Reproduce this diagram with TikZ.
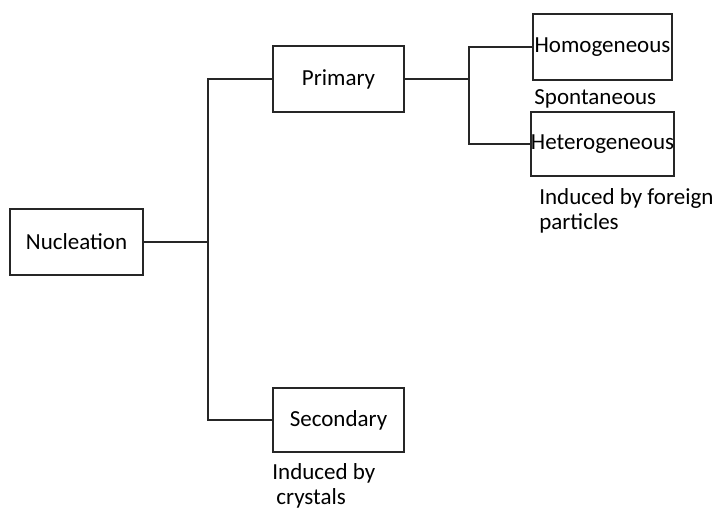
\documentclass[tikz,border=0pt]{standalone}
\usepackage{fontspec}
\setmainfont{Carlito}
\usetikzlibrary{positioning}

\tikzset{
  box/.style={draw=black!85, line width=1pt, minimum height=33pt, inner sep=0pt,
    font=\fontsize{11.5}{13}\selectfont},
  lbl/.style={inner sep=0pt, align=left, font=\fontsize{11.5}{12.5}\selectfont},
  link/.style={draw=black!85, line width=1pt},
}

\begin{document}
\begin{tikzpicture}[on grid, node distance=1cm]
   \useasboundingbox (-38.25pt,-133.5pt) rectangle (319.25pt,121pt);

   % boxes
   \node[box, minimum width=66.5pt] (nuc) {Nucleation};
   \node[box, minimum width=65.5pt] (prim) [above right=81.5pt and 131pt of nuc] {Primary};
   \node[box, minimum width=65.5pt, minimum height=32pt] (sec) [below=170.5pt of prim] {Secondary};
   \node[box, minimum width=69.5pt] (homog) [above right=16pt and 132pt of prim] {Homogeneous};
   \node[box, minimum width=69pt, minimum height=32pt] (heter) [below=48.5pt of homog] {Heterogeneous};

   % branch points
   \coordinate[right=32pt of nuc.east] (jl);
   \coordinate[right=32pt of prim.east] (jr);

   % connectors
   \draw[link] (nuc.east) -- (jl);
   \draw[link] (prim.west) -| (jl) |- (sec.west);
   \draw[link] (prim.east) -- (jr);
   \draw[link] (homog.west) -| (jr) |- (heter.west);

   % notes under the boxes
   \node[lbl, anchor=north west] (spont) at ([xshift=1pt, yshift=-4pt]homog.south west) {Spontaneous};
   \node[lbl, anchor=north west] (foreign) at ([xshift=4.5pt, yshift=-5.5pt]heter.south west) {Induced by foreign\\particles};
   \node[lbl, anchor=north west] (cryst) at ([yshift=-5pt]sec.south west) {Induced by\\\hspace{2pt}crystals};
\end{tikzpicture}
\end{document}
